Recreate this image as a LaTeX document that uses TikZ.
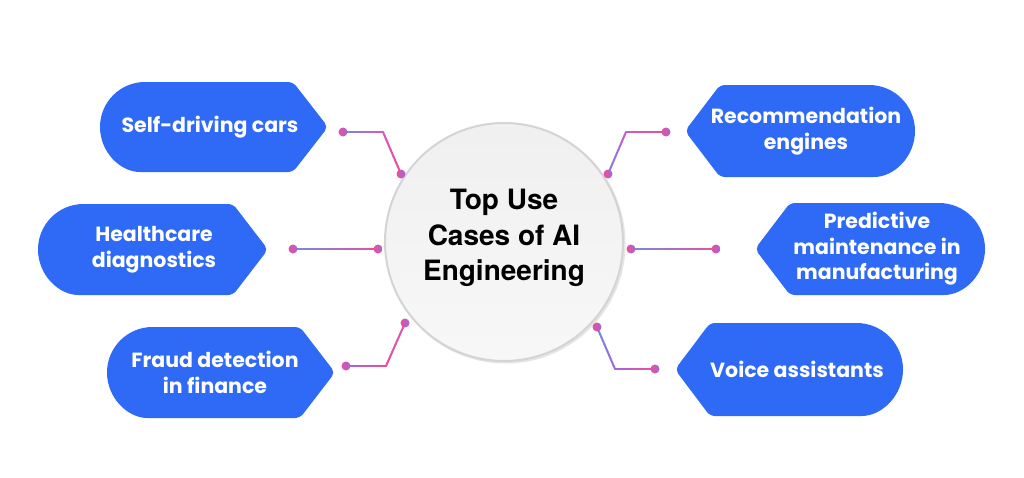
\documentclass[tikz,border=0pt]{standalone}
\usepackage{fontspec}
\usetikzlibrary{calc}
\newfontfamily\tagfont{Poppins}
\newfontfamily\titlefont{TeX Gyre Heros}
\definecolor{tagblue}{HTML}{2E6AF6}
\definecolor{cblue}{HTML}{6F8BEB}
\definecolor{cpink}{HTML}{EA4F98}
\definecolor{cmag}{HTML}{D556C4}
\definecolor{cpurple}{HTML}{A466DA}
\definecolor{ringgray}{HTML}{D4D4D4}
\tikzset{
  tagtext/.style={text=white, align=center, font=\tagfont\bfseries\fontsize{20.5}{25.5}\selectfont},
  dotpt/.style={circle, inner sep=0pt, minimum size=9pt, left color=cpink, right color=cpurple},
  gline/.style={line width=2pt, line cap=round},
}
\newcommand\ltag[4]{% xl, xtip, ytop, ybot
  \fill[tagblue, rounded corners=5pt] ({#1+(#4-#3)/2},#3) -- ({#2-35},#3) -- (#2,{(#3+#4)/2}) -- ({#2-35},#4) -- ({#1+(#4-#3)/2},#4)
    [sharp corners] arc[start angle=90, end angle=270, radius={(#4-#3)/2}];}
\newcommand\rtag[4]{% xtip, xr, ytop, ybot
  \fill[tagblue, rounded corners=5pt] ({#2-(#4-#3)/2},#3) -- ({#1+35},#3) -- (#1,{(#3+#4)/2}) -- ({#1+35},#4) -- ({#2-(#4-#3)/2},#4)
    [sharp corners] arc[start angle=90, end angle=-90, radius={(#4-#3)/2}];}
\newcommand\gseg[4]{% from, to, colour at start, colour at end
  \foreach \k in {0,...,11}{%
    \pgfmathtruncatemacro\pc{100*(\k+0.5)/12}%
    \draw[gline, color=#4!\pc!#3] ($(#1)!{\k/12}!(#2)$) -- ($(#1)!{(\k+1)/12}!(#2)$);
  }}
\begin{document}
\begin{tikzpicture}[x=1pt, y=-1pt]
\useasboundingbox (0,0) rectangle (1024,477);
\fill[white] (0,0) rectangle (1024,477);

% hub
\fill[ringgray!60] (505.5,243.5) circle[radius=120];
\node[circle, minimum size=238pt, inner sep=0pt, draw=ringgray, line width=2pt,
      top color=black!6, bottom color=black!3] (hub) at (504,242) {};
\node[align=center, font=\titlefont\bfseries\fontsize{28}{35.5}\selectfont] (title) at (504,238)
  {Top Use\\Cases of AI\\Engineering};

% tags
\ltag{100}{328}{82}{172}
\node[tagtext] (t1) at (210,127) {Self-driving cars};
\ltag{38}{268}{204}{295}
\node[tagtext] (t2) at (154,249.5) {Healthcare\\diagnostics};
\ltag{107}{335}{327}{418}
\node[tagtext] (t3) at (215,372.5) {Fraud detection\\in finance};
\rtag{685}{915}{85}{177}
\node[tagtext] (t4) at (806,131) {Recommendation\\engines};
\rtag{755}{985}{203}{295}
\node[tagtext] (t5) at (877,249) {Predictive\\maintenance in\\manufacturing};
\rtag{675}{903}{323}{416}
\node[tagtext] (t6) at (797,369.5) {Voice assistants};

% connector points
\coordinate (a1) at (343,132); \coordinate (c1) at (383,132); \coordinate (b1) at (401,174);
\coordinate (a2) at (293,249); \coordinate (b2) at (378,249);
\coordinate (a3) at (346,366); \coordinate (c3) at (386,366); \coordinate (b3) at (405,323);
\coordinate (a4) at (666,132); \coordinate (c4) at (626,132); \coordinate (b4) at (608,174);
\coordinate (a5) at (716,249); \coordinate (b5) at (631,249);
\coordinate (a6) at (655,369); \coordinate (c6) at (615,369); \coordinate (b6) at (597,327);

% connectors
\gseg{a1}{c1}{cblue}{cmag}\gseg{c1}{b1}{cmag}{cpink}
\gseg{a2}{b2}{cblue}{cpink}
\gseg{a3}{c3}{cpurple}{cpink}\gseg{c3}{b3}{cpink}{cmag}
\gseg{a4}{c4}{cpink}{cmag}\gseg{c4}{b4}{cmag}{cblue}
\gseg{b5}{a5}{cblue}{cpink}
\gseg{b6}{c6}{cblue}{cpurple}\gseg{c6}{a6}{cpurple}{cpink}

% dots
\foreach \p in {a1,b1,a2,b2,a3,b3,a4,b4,a5,b5,a6,b6}
  \node[dotpt] (d\p) at (\p) {};
\end{tikzpicture}
\end{document}
